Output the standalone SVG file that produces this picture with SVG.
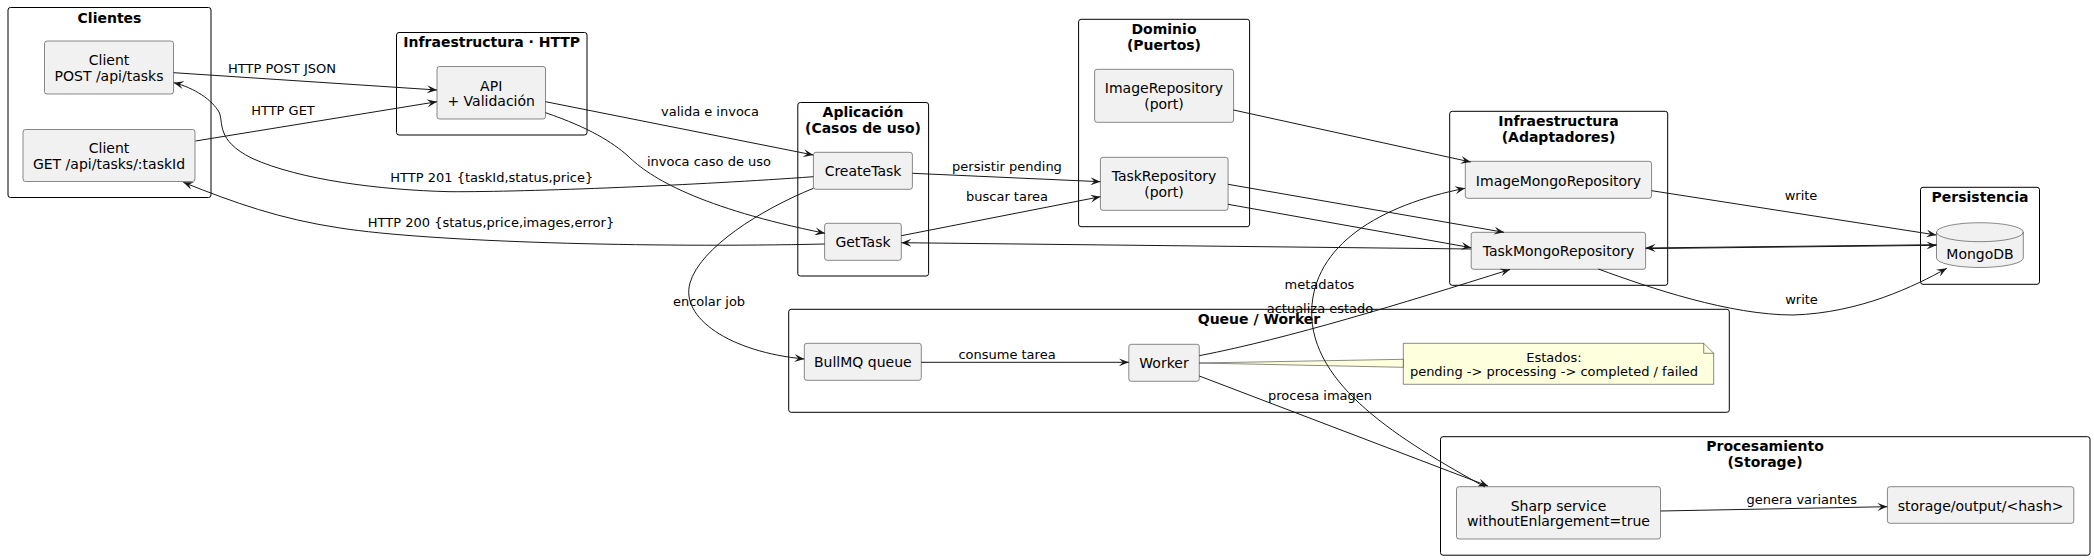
<svg xmlns="http://www.w3.org/2000/svg" width="2094" height="560" viewBox="0 0 2094 560">
<style>
.cl{fill:none;stroke:#000;stroke-width:1}
.nd{fill:#F1F1F1;stroke:#181818;stroke-width:0.5}
.tt{font-family:"DejaVu Sans",sans-serif;font-size:14px;font-weight:bold;fill:#000;text-anchor:middle}
.nt{font-family:"DejaVu Sans",sans-serif;font-size:14px;fill:#000;text-anchor:middle}
.lb{font-family:"DejaVu Sans",sans-serif;font-size:13px;fill:#000;text-anchor:middle}
.ed{fill:none;stroke:#181818;stroke-width:1;marker-end:url(#ah)}
</style>
<defs>
<marker id="ah" viewBox="0 0 10 8" refX="10" refY="4" markerWidth="10" markerHeight="8" markerUnits="userSpaceOnUse" orient="auto-start-reverse">
<path d="M0,0 L10,4 L0,8 L4,4 Z" fill="#181818"/>
</marker>
</defs>
<rect fill="#FFFFFF" x="0" y="0" width="2094" height="560"/>

<g id="clientes">
<rect class="cl" x="8" y="7.5" width="203" height="190" rx="2.5"/>
<text class="tt" x="109.5" y="22.5">Clientes</text>
</g>
<g id="clientPost">
<rect class="nd" x="44.5" y="41" width="129" height="53" rx="2.5"/>
<text class="nt" x="109" y="65.3">Client</text>
<text class="nt" x="109" y="81.3">POST /api/tasks</text>
</g>
<g id="clientGet">
<rect class="nd" x="23" y="129.5" width="172" height="52" rx="2.5"/>
<text class="nt" x="109" y="153">Client</text>
<text class="nt" x="109" y="169">GET /api/tasks/:taskId</text>
</g>

<g id="infraHttp">
<rect class="cl" x="396.5" y="32.5" width="190.5" height="102.5" rx="2.5"/>
<text class="tt" x="491.7" y="47.3">Infraestructura · HTTP</text>
</g>
<g id="api">
<rect class="nd" x="437" y="66.5" width="108.5" height="52.5" rx="2.5"/>
<text class="nt" x="491.2" y="90.7">API</text>
<text class="nt" x="491.2" y="106">+ Validación</text>
</g>

<g id="aplicacion">
<rect class="cl" x="797.8" y="102.5" width="130.8" height="173.5" rx="2.5"/>
<text class="tt" x="863" y="117.3">Aplicación</text>
<text class="tt" x="863" y="133.3">(Casos de uso)</text>
</g>
<g id="createTask">
<rect class="nd" x="813.4" y="152.3" width="99" height="37" rx="2.5"/>
<text class="nt" x="863" y="176">CreateTask</text>
</g>
<g id="getTask">
<rect class="nd" x="824.6" y="223.3" width="76.7" height="37" rx="2.5"/>
<text class="nt" x="863" y="246.7">GetTask</text>
</g>

<g id="dominio">
<rect class="cl" x="1078.6" y="19.3" width="171" height="207.4" rx="2.5"/>
<text class="tt" x="1164" y="34.3">Dominio</text>
<text class="tt" x="1164" y="50">(Puertos)</text>
</g>
<g id="imageRepository">
<rect class="nd" x="1094.6" y="69.3" width="139" height="53" rx="2.5"/>
<text class="nt" x="1164" y="93.3">ImageRepository</text>
<text class="nt" x="1164" y="109">(port)</text>
</g>
<g id="taskRepository">
<rect class="nd" x="1100.4" y="157.3" width="127.7" height="53" rx="2.5"/>
<text class="nt" x="1164" y="181">TaskRepository</text>
<text class="nt" x="1164" y="197.3">(port)</text>
</g>

<g id="infraAdaptadores">
<rect class="cl" x="1449.7" y="111.3" width="218" height="174" rx="2.5"/>
<text class="tt" x="1558.5" y="126">Infraestructura</text>
<text class="tt" x="1558.5" y="142">(Adaptadores)</text>
</g>
<g id="imageMongoRepository">
<rect class="nd" x="1465.3" y="161.3" width="186.3" height="37" rx="2.5"/>
<text class="nt" x="1558.5" y="185.7">ImageMongoRepository</text>
</g>
<g id="taskMongoRepository">
<rect class="nd" x="1471.2" y="232.3" width="174.4" height="37" rx="2.5"/>
<text class="nt" x="1558.5" y="256.3">TaskMongoRepository</text>
</g>

<g id="persistencia">
<rect class="cl" x="1920.5" y="187.3" width="119" height="97" rx="2.5"/>
<text class="tt" x="1980" y="202">Persistencia</text>
</g>
<g id="mongodb">
<path class="nd" d="M1936.5,232.2 A43.4,9.5 0 0 1 2023.3,232.2 L2023.3,258 A43.4,9.5 0 0 1 1936.5,258 Z"/>
<path d="M1936.5,232.2 A43.4,9.5 0 0 0 2023.3,232.2" fill="none" stroke="#181818" stroke-width="0.5"/>
<text class="nt" x="1980" y="258.5">MongoDB</text>
</g>

<g id="queueWorker">
<rect class="cl" x="788.7" y="309.3" width="940.6" height="103" rx="2.5"/>
<text class="tt" x="1259" y="324.3">Queue / Worker</text>
</g>
<g id="bullmq">
<rect class="nd" x="804.3" y="343.3" width="117" height="37" rx="2.5"/>
<text class="nt" x="862.8" y="367">BullMQ queue</text>
</g>
<g id="worker">
<rect class="nd" x="1128.8" y="344.3" width="70.5" height="37" rx="2.5"/>
<text class="nt" x="1164" y="368">Worker</text>
</g>
<g id="note">
<path d="M1403.3,343.3 L1703.7,343.3 L1713.7,353.3 L1713.7,384.3 L1403.3,384.3 Z" fill="#FEFFDD" stroke="#181818" stroke-width="0.5"/>
<path d="M1703.7,343.3 L1703.7,353.3 L1713.7,353.3" fill="none" stroke="#181818" stroke-width="0.5"/>
<text class="lb" x="1554" y="361.5">Estados:</text>
<text class="lb" x="1554" y="376">pending -&gt; processing -&gt; completed / failed</text>
</g>

<g id="procesamiento">
<rect class="cl" x="1440.5" y="436.7" width="649.5" height="118.5" rx="2.5"/>
<text class="tt" x="1765" y="451">Procesamiento</text>
<text class="tt" x="1765" y="467.3">(Storage)</text>
</g>
<g id="sharp">
<rect class="nd" x="1456.5" y="486.7" width="204" height="52.3" rx="2.5"/>
<text class="nt" x="1558.5" y="510.7">Sharp service</text>
<text class="nt" x="1558.5" y="525.7">withoutEnlargement=true</text>
</g>
<g id="storage">
<rect class="nd" x="1887.4" y="486.7" width="186.4" height="36.6" rx="2.5"/>
<text class="nt" x="1980.6" y="511">storage/output/&lt;hash&gt;</text>
</g>

<g id="connectors">
<polygon points="1199.3,363 1403.3,359.3 1403.3,367.3" fill="#FEFFDD" stroke="#181818" stroke-width="0.5"/>

<path class="ed" d="M173.7,72.7 L437,90"/>
<text class="lb" x="282" y="73">HTTP POST JSON</text>

<path class="ed" d="M195.5,141 L437,101.7"/>
<text class="lb" x="283" y="114.7">HTTP GET</text>

<path class="ed" d="M545.5,101.7 L813.4,155"/>
<text class="lb" x="710" y="116.4">valida e invoca</text>

<path class="ed" d="M545.5,112.7 C590,128 612,142 628,156 C650,178 700,208 825,233.3"/>
<text class="lb" x="709" y="165.7">invoca caso de uso</text>

<path class="ed" d="M813.4,176.7 C700,185 530,192 450,191.7 C380,190 300,180 252,158.3 C215,140 224,122 219,112 C212,100 195,88 173.7,82.7"/>
<text class="lb" x="491.8" y="182.2">HTTP 201 {taskId,status,price}</text>

<path class="ed" d="M824.6,244 C650,248 430,242 340,228 C280,219 235,203 183.3,182.3"/>
<text class="lb" x="491" y="227.4">HTTP 200 {status,price,images,error}</text>

<path class="ed" d="M912.5,173.3 L1100.4,181.7"/>
<text class="lb" x="1007" y="171.4">persistir pending</text>

<path class="ed" d="M901.3,235.7 L1100.4,196.7"/>
<text class="lb" x="1007" y="201.4">buscar tarea</text>

<path class="ed" d="M813.4,188.3 C760,210 700,248 690,283 C680,318 730,352 804.3,359"/>
<text class="lb" x="709" y="306.4">encolar job</text>

<path class="ed" d="M1233.5,110 L1470.7,162"/>
<path class="ed" d="M1228,184.3 L1504,232.3"/>
<path class="ed" d="M1228,204.3 L1471.2,247.7"/>
<path class="ed" d="M1471.2,249 L901.3,242.7"/>

<path class="ed" d="M1651.6,190.7 L1936.3,235"/>
<text class="lb" x="1801" y="200">write</text>

<path class="ed" d="M1645.6,248.6 L1936.5,245.3"/>
<path class="ed" d="M1936.5,244.7 L1645.6,248"/>

<path class="ed" d="M1598.3,269 C1650,288 1730,315 1793,315 C1860,313 1915,286 1946.7,268.3"/>
<text class="lb" x="1801.5" y="304">write</text>

<path class="ed" d="M921.2,362.3 L1128.8,362.3"/>
<text class="lb" x="1007" y="359">consume tarea</text>

<path class="ed" d="M1199.3,355.7 C1290,338 1400,304 1510,269.5"/>
<text class="lb" x="1320" y="313">actualiza estado</text>

<path class="ed" d="M1199.3,376 L1488,486"/>
<text class="lb" x="1320" y="400.4">procesa imagen</text>

<path class="ed" d="M1485,487 C1400,440 1310,385 1311.7,311 C1313,245 1380,205 1465,188.3"/>
<text class="lb" x="1319.5" y="289">metadatos</text>

<path class="ed" d="M1660.6,511 L1887.4,506.7"/>
<text class="lb" x="1801.8" y="504">genera variantes</text>
</g>
</svg>
